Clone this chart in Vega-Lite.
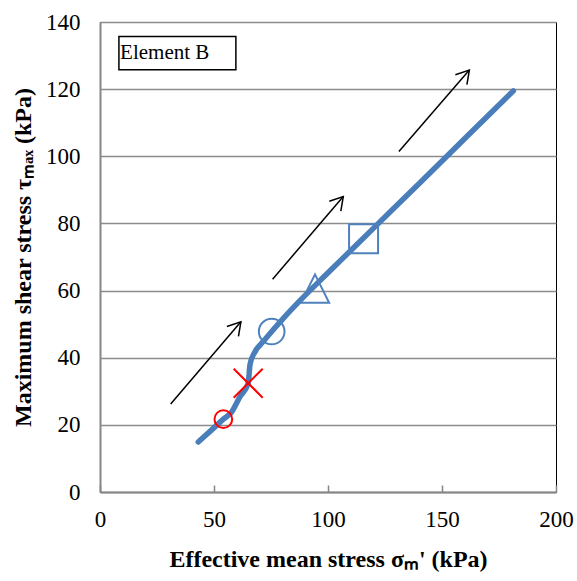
{
  "$schema": "https://vega.github.io/schema/vega-lite/v6.json",
  "autosize": "none",
  "width": 456,
  "height": 470,
  "padding": {"left": 100, "top": 22, "right": 21, "bottom": 89},
  "background": "white",
  "config": {
    "view": {"stroke": "black", "strokeWidth": 1},
    "font": "Liberation Serif",
    "axis": {
      "labelFont": "Liberation Serif",
      "labelFontSize": 23,
      "labelColor": "black",
      "labelFlush": false,
      "titleFont": "Liberation Serif",
      "titleFontSize": 24,
      "titleFontWeight": "bold",
      "titleColor": "black",
      "domainColor": "#868686",
      "domainWidth": 2,
      "tickColor": "#868686",
      "tickWidth": 1.5,
      "gridColor": "#8c8c8c",
      "gridWidth": 1.5
    }
  },
  "datasets": {
    "curve": [
      {"x": 43.1, "y": 14.9},
      {"x": 48.5, "y": 18.2},
      {"x": 54.1, "y": 21.7},
      {"x": 57.8, "y": 23.9},
      {"x": 61.4, "y": 28.4},
      {"x": 65.0, "y": 32.4},
      {"x": 65.8, "y": 38.0},
      {"x": 68.0, "y": 41.8},
      {"x": 71.6, "y": 44.8},
      {"x": 75.3, "y": 47.8},
      {"x": 80.5, "y": 51.8},
      {"x": 87.7, "y": 57.0},
      {"x": 100.0, "y": 65.3},
      {"x": 120.0, "y": 78.6},
      {"x": 140.0, "y": 91.9},
      {"x": 160.0, "y": 105.3},
      {"x": 181.3, "y": 119.5}
    ],
    "markers": [
      {"name": "start", "x": 54.1, "y": 21.7},
      {"name": "cross", "x": 65.0, "y": 32.4},
      {"name": "circle", "x": 75.3, "y": 47.8},
      {"name": "triangle", "x": 94.3, "y": 60.6},
      {"name": "square", "x": 115.6, "y": 75.4}
    ],
    "arrows": [
      {"x": 31.0, "y": 26.2, "x2": 61.8, "y2": 50.7},
      {"x": 75.7, "y": 63.4, "x2": 106.7, "y2": 88.0},
      {"x": 131.1, "y": 101.4, "x2": 162.0, "y2": 125.7}
    ],
    "label": [
      {"x": 8.3, "x2": 59.6, "y": 125.8, "y2": 135.7, "tx": 8.8, "ty": 129.0, "text": "Element B"}
    ]
  },
  "layer": [
    {
      "data": {"name": "curve"},
      "mark": {"type": "line", "color": "#4A7EBB", "strokeWidth": 5.5, "strokeCap": "round", "interpolate": "monotone"},
      "encoding": {
        "x": {"field": "x", "type": "quantitative",
              "scale": {"domain": [0, 200], "nice": false, "zero": false},
              "axis": {"values": [0, 50, 100, 150, 200], "grid": false, "tickSize": -7, "labelPadding": 23,
                       "title": "Effective mean stress σₘ' (kPa)", "titlePadding": 16}},
        "y": {"field": "y", "type": "quantitative",
              "scale": {"domain": [0, 140], "nice": false, "zero": false},
              "axis": {"values": [0, 20, 40, 60, 80, 100, 120, 140], "grid": true, "ticks": false, "labelPadding": 20,
                       "title": "Maximum shear stress τₘₐₓ (kPa)", "titlePadding": 10}},
        "order": {"field": "x"}
      }
    },
    {
      "data": {"name": "arrows"},
      "mark": {"type": "rule", "color": "black", "strokeWidth": 1.5},
      "encoding": {
        "x": {"field": "x", "type": "quantitative"},
        "y": {"field": "y", "type": "quantitative"},
        "x2": {"field": "x2"},
        "y2": {"field": "y2"}
      }
    },
    {
      "data": {"name": "arrows"},
      "mark": {"type": "point", "shape": "M-1,-0.6L0,0L-1,0.6", "filled": false, "color": "black", "strokeWidth": 1.5, "size": 640, "angle": 310.5, "opacity": 1},
      "encoding": {
        "x": {"field": "x2", "type": "quantitative"},
        "y": {"field": "y2", "type": "quantitative"}
      }
    },
    {
      "data": {"name": "markers"},
      "transform": [{"filter": "datum.name == 'start'"}],
      "mark": {"type": "point", "shape": "circle", "filled": false, "color": "#FF0000", "strokeWidth": 2, "size": 314, "opacity": 1},
      "encoding": {"x": {"field": "x", "type": "quantitative"}, "y": {"field": "y", "type": "quantitative"}}
    },
    {
      "data": {"name": "markers"},
      "transform": [{"filter": "datum.name == 'cross'"}],
      "mark": {"type": "point", "shape": "M-1,-1L1,1M-1,1L1,-1", "filled": false, "color": "#FF0000", "strokeWidth": 2, "size": 841, "opacity": 1},
      "encoding": {"x": {"field": "x", "type": "quantitative"}, "y": {"field": "y", "type": "quantitative"}}
    },
    {
      "data": {"name": "markers"},
      "transform": [{"filter": "datum.name == 'circle'"}],
      "mark": {"type": "point", "shape": "circle", "filled": false, "color": "#4F81BD", "strokeWidth": 2, "size": 660, "opacity": 1},
      "encoding": {"x": {"field": "x", "type": "quantitative"}, "y": {"field": "y", "type": "quantitative"}}
    },
    {
      "data": {"name": "markers"},
      "transform": [{"filter": "datum.name == 'triangle'"}],
      "mark": {"type": "point", "shape": "M0,-1L-1,1L1,1Z", "filled": false, "color": "#4F81BD", "strokeWidth": 2, "size": 800, "opacity": 1},
      "encoding": {"x": {"field": "x", "type": "quantitative"}, "y": {"field": "y", "type": "quantitative"}}
    },
    {
      "data": {"name": "markers"},
      "transform": [{"filter": "datum.name == 'square'"}],
      "mark": {"type": "point", "shape": "square", "filled": false, "color": "#4F81BD", "strokeWidth": 2, "size": 841, "opacity": 1},
      "encoding": {"x": {"field": "x", "type": "quantitative"}, "y": {"field": "y", "type": "quantitative"}}
    },
    {
      "data": {"name": "label"},
      "mark": {"type": "rect", "fill": "white", "stroke": "black", "strokeWidth": 1.5},
      "encoding": {
        "x": {"field": "x", "type": "quantitative"},
        "x2": {"field": "x2"},
        "y": {"field": "y", "type": "quantitative"},
        "y2": {"field": "y2"}
      }
    },
    {
      "data": {"name": "label"},
      "mark": {"type": "text", "align": "left", "baseline": "alphabetic", "font": "Liberation Serif", "fontSize": 21, "color": "black"},
      "encoding": {
        "x": {"field": "tx", "type": "quantitative"},
        "y": {"field": "ty", "type": "quantitative"},
        "text": {"field": "text"}
      }
    }
  ]
}
